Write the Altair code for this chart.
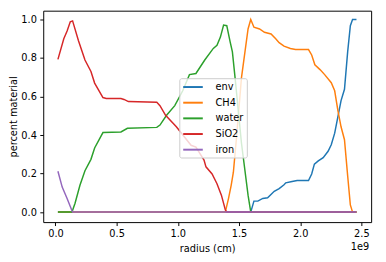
import altair as alt
import pandas as pd

series = ["env", "CH4", "water", "SiO2", "iron"]
colors = ["#1f77b4", "#ff7f0e", "#2ca02c", "#d62728", "#9467bd"]

# radius in units of 1e9 cm
env_x = [0.02, 1.596, 1.622, 1.654, 1.694, 1.734, 1.788, 1.828, 1.868, 1.882, 1.934, 1.975, 2.068, 2.094,
         2.116, 2.148, 2.188, 2.228, 2.254, 2.282, 2.308, 2.334, 2.362, 2.388, 2.41, 2.428, 2.46]
env_y = [0, 0, 0.057, 0.057, 0.071, 0.074, 0.108, 0.122, 0.142, 0.152, 0.159, 0.164, 0.164, 0.198,
         0.249, 0.266, 0.283, 0.316, 0.35, 0.41, 0.494, 0.579, 0.638, 0.832, 0.968, 1.0, 1.0]

ch4_x = [0.02, 1.388, 1.414, 1.436, 1.454, 1.48, 1.52, 1.574, 1.596, 1.622, 1.668, 1.708, 1.762, 1.80,
         1.828, 1.868, 1.92, 1.962, 2.068, 2.094, 2.12, 2.162, 2.20, 2.254, 2.282, 2.308, 2.334, 2.362,
         2.388, 2.41, 2.428, 2.46]
ch4_y = [0, 0, 0.07, 0.139, 0.207, 0.39, 0.697, 0.951, 1.0, 0.96, 0.951, 0.934, 0.925, 0.90,
         0.88, 0.862, 0.85, 0.844, 0.844, 0.816, 0.765, 0.74, 0.714, 0.672, 0.63, 0.528, 0.443, 0.376,
         0.189, 0.037, 0, 0]

water_x = [0.02, 0.135, 0.16, 0.20, 0.241, 0.29, 0.32, 0.388, 0.535, 0.588, 0.828, 0.854, 0.908, 0.975,
           1.04, 1.095, 1.148, 1.22, 1.29, 1.32, 1.348, 1.374, 1.40, 1.428, 1.446, 1.468, 1.52, 1.574,
           1.596, 2.46]
water_y = [0, 0, 0.046, 0.139, 0.215, 0.274, 0.333, 0.413, 0.416, 0.435, 0.44, 0.452, 0.503, 0.553,
           0.63, 0.714, 0.72, 0.79, 0.85, 0.866, 0.909, 0.971, 0.968, 0.883, 0.832, 0.697, 0.359, 0.088,
           0, 0]

sio2_x = [0.02, 0.068, 0.095, 0.121, 0.14, 0.188, 0.241, 0.29, 0.32, 0.388, 0.415, 0.535, 0.56, 0.596,
          0.828, 0.854, 0.90, 0.988, 1.108, 1.148, 1.214, 1.23, 1.28, 1.32, 1.356, 1.388, 1.40, 2.46]
sio2_y = [0.793, 0.90, 0.94, 0.988, 0.993, 0.89, 0.79, 0.73, 0.67, 0.595, 0.59, 0.59, 0.585, 0.574,
          0.570, 0.553, 0.503, 0.443, 0.347, 0.338, 0.27, 0.235, 0.198, 0.147, 0.088, 0.012, 0, 0]

iron_x = [0.02, 0.055, 0.095, 0.135, 0.14, 2.46]
iron_y = [0.212, 0.13, 0.071, 0.007, 0, 0]

x_ticks = [0.0, 0.5, 1.0, 1.5, 2.0, 2.5]
y_ticks = [0.0, 0.2, 0.4, 0.6, 0.8, 1.0]

data = {"env": (env_x, env_y), "CH4": (ch4_x, ch4_y), "water": (water_x, water_y),
        "SiO2": (sio2_x, sio2_y), "iron": (iron_x, iron_y)}

rows = []
for name in series:
    xs, ys = data[name]
    for i, (xv, yv) in enumerate(zip(xs, ys)):
        rows.append({"series": name, "radius": xv, "frac": yv, "idx": i})
df = pd.DataFrame(rows)

xenc = alt.X("radius:Q", scale=alt.Scale(domain=[-0.1, 2.58], nice=False, zero=False),
             axis=alt.Axis(values=x_ticks, format=".1f", title="radius (cm)", titlePadding=5))
yenc = alt.Y("frac:Q", scale=alt.Scale(domain=[-0.052, 1.046], nice=False, zero=False),
             axis=alt.Axis(values=y_ticks, format=".1f", title="percent material", titlePadding=2))
cenc = alt.Color("series:N", scale=alt.Scale(domain=series, range=colors),
                 legend=alt.Legend(title=None, orient="none", legendX=139, legendY=69))

layers = []
for name in series:
    layers.append(
        alt.Chart(df).transform_filter(alt.datum.series == name)
        .mark_line(strokeWidth=1.5, clip=True)
        .encode(x=xenc, y=yenc, color=cenc, order="idx:Q")
    )

offset_text = alt.Chart(pd.DataFrame({"t": ["1e9"]})).mark_text(
    align="right", baseline="middle", fontSize=10, font="DejaVu Sans", color="black"
).encode(x=alt.value(333), y=alt.value(241), text="t:N")

chart = alt.layer(*layers, offset_text).properties(
    width=335, height=216,
    autosize=alt.AutoSizeParams(type="none"),
    padding={"left": 36, "top": 0, "right": 7, "bottom": 38},
).configure_view(
    stroke="black", strokeWidth=1
).configure_axis(
    domain=False, grid=False, tickColor="black", tickSize=3.5, tickWidth=1,
    labelFont="DejaVu Sans", labelFontSize=10, labelColor="black", labelPadding=3.5,
    titleFont="DejaVu Sans", titleFontSize=10, titleFontWeight="normal", titleColor="black",
).configure_legend(
    symbolType="M-1,0H3", symbolSize=100, symbolStrokeWidth=2, labelOffset=22,
    padding=3, rowPadding=5, fillColor="rgba(255,255,255,0.8)", strokeColor="#cccccc",
    cornerRadius=2, labelFont="DejaVu Sans", labelFontSize=10, labelColor="black",
)

chart.save("out.html", embed_options={"renderer": "svg", "actions": False})
